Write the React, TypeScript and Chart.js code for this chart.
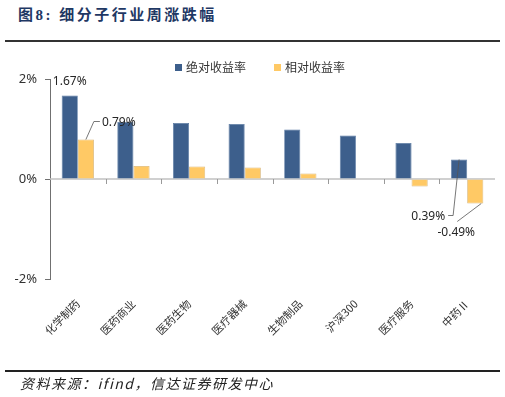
import React, { useEffect, useRef } from "react";
import { Chart, registerables } from "chart.js";

Chart.register(...registerables);

const categories = ["化学制药", "医药商业", "医药生物", "医疗器械", "生物制品", "沪深300", "医疗服务", "中药Ⅱ"];
const absReturn = [1.67, 1.14, 1.12, 1.10, 0.99, 0.87, 0.72, 0.39];
const relReturn = [0.79, 0.26, 0.25, 0.23, 0.11, 0, -0.15, -0.49];
const seriesNames = ["绝对收益率", "相对收益率"];
const yTicks = [-2, 0, 2];

const BLUE = "#3D5F8C";
const YELLOW = "#FFC965";
const NUM_FONT = '"Noto Sans", "Open Sans", sans-serif';
const CJK_FONT = '"Noto Sans CJK SC", "Noto Sans", sans-serif';

const fmt = (v: number) => v.toFixed(2) + "%";

const annotPlugin = {
  id: "annot",
  beforeDatasetsDraw(chart: any) {
    const { ctx, chartArea } = chart;
    const x = chart.scales.x;
    const y = chart.scales.y;
    const y0 = y.getPixelForValue(0);
    ctx.save();
    ctx.strokeStyle = "#c0c0c0";
    ctx.lineWidth = 1.5;
    ctx.beginPath();
    ctx.moveTo(chartArea.left, y0);
    ctx.lineTo(chartArea.right, y0);
    ctx.stroke();
    ctx.lineWidth = 1;
    ctx.strokeStyle = "#9a9a9a";
    const n = categories.length;
    for (let i = 1; i < n; i++) {
      const bx = Math.round((x.getPixelForValue(i - 1) + x.getPixelForValue(i)) / 2) + 0.5;
      ctx.beginPath();
      ctx.moveTo(bx, y0);
      ctx.lineTo(bx, y0 + 5);
      ctx.stroke();
    }
    ctx.restore();
  },
  afterDatasetsDraw(chart: any) {
    const { ctx } = chart;
    const m0 = chart.getDatasetMeta(0).data;
    const m1 = chart.getDatasetMeta(1).data;
    const last = categories.length - 1;
    ctx.save();
    ctx.font = "12px " + NUM_FONT;
    ctx.fillStyle = "#262626";
    ctx.strokeStyle = "#555";
    ctx.lineWidth = 0.8;
    ctx.textBaseline = "middle";

    // 1.67%
    const a0 = m0[0];
    ctx.textAlign = "center";
    ctx.fillText(fmt(absReturn[0]), a0.x, a0.y - 14);

    // 0.79%
    const r0 = m1[0];
    ctx.beginPath();
    ctx.moveTo(r0.x, r0.y);
    ctx.lineTo(r0.x + 8, r0.y - 18);
    ctx.lineTo(r0.x + 14, r0.y - 18);
    ctx.stroke();
    ctx.textAlign = "left";
    ctx.fillText(fmt(relReturn[0]), r0.x + 16, r0.y - 17);

    // 0.39%
    const aL = m0[last];
    ctx.beginPath();
    ctx.moveTo(aL.x, aL.y);
    ctx.lineTo(aL.x - 6, aL.y + 56);
    ctx.lineTo(aL.x - 11, aL.y + 56);
    ctx.stroke();
    ctx.textAlign = "right";
    ctx.fillText(fmt(absReturn[last]), aL.x - 14, aL.y + 57);

    // -0.49%
    const rL = m1[last];
    ctx.beginPath();
    ctx.moveTo(rL.x + 6, rL.y);
    ctx.lineTo(rL.x - 18, rL.y + 18);
    ctx.stroke();
    ctx.textAlign = "center";
    ctx.fillText(fmt(relReturn[last]), rL.x - 19, rL.y + 29);
    ctx.restore();
  },
};

export default function App() {
  const ref = useRef<HTMLCanvasElement | null>(null);
  useEffect(() => {
    if (!ref.current) return;
    const chart = new Chart(ref.current, {
      type: "bar",
      data: {
        labels: categories,
        datasets: [
          {
            label: seriesNames[0],
            data: absReturn,
            backgroundColor: BLUE,
            borderColor: "#5a7aa3",
            borderWidth: 0.8,
          },
          {
            label: seriesNames[1],
            data: relReturn,
            backgroundColor: YELLOW,
            borderColor: "#d8b373",
            borderWidth: 0.8,
          },
        ],
      },
      options: {
        responsive: false,
        animation: false,
        layout: { padding: { left: 0, right: 10, top: 79, bottom: 0 } },
        plugins: {
          legend: { display: false },
          tooltip: { enabled: false },
        },
        datasets: {
          bar: { barPercentage: 1, categoryPercentage: 0.58 },
        },
        scales: {
          x: {
            grid: { display: false },
            border: { display: false },
            ticks: {
              minRotation: 45,
              maxRotation: 45,
              padding: 10,
              color: "#333",
              font: { family: CJK_FONT, size: 11 },
            },
            afterFit: (s: any) => {
              s.height = 118;
            },
          },
          y: {
            min: -2,
            max: 2,
            afterBuildTicks: (s: any) => {
              s.ticks = yTicks.map((v) => ({ value: v }));
            },
            grid: {
              display: true,
              drawOnChartArea: false,
              drawTicks: true,
              tickLength: 5,
              color: "#707070",
            },
            border: { display: true, color: "#707070", width: 1 },
            ticks: {
              padding: 8,
              color: "#333",
              font: { family: NUM_FONT, size: 13 },
              callback: (v: any) => v + "%",
            },
            afterFit: (s: any) => {
              s.width = 50;
            },
          },
        },
      },
      plugins: [annotPlugin],
    });
    return () => chart.destroy();
  }, []);

  return (
    <div style={{ position: "fixed", left: 0, top: 0, width: 505, height: 397, background: "#fff", overflow: "hidden" }}>
      <div
        style={{
          position: "absolute",
          left: 18,
          top: 4,
          fontFamily: '"Liberation Serif", "Noto Sans CJK SC", serif',
          fontWeight: "bold",
          fontSize: 15,
          letterSpacing: 2.5,
          color: "#1F3864",
          whiteSpace: "nowrap",
          lineHeight: "22px",
        }}
      >
        图8: 细分子行业周涨跌幅
      </div>
      <div style={{ position: "absolute", left: 5, top: 40, width: 495, height: 1.5, background: "#333" }} />
      <canvas ref={ref} width={505} height={397} style={{ position: "absolute", left: 0, top: 0 }} />
      <div
        style={{
          position: "absolute",
          top: 58,
          left: 175,
          display: "flex",
          alignItems: "center",
          fontFamily: CJK_FONT,
          fontSize: 12,
          color: "#333",
          whiteSpace: "nowrap",
          lineHeight: "18px",
        }}
      >
        <span style={{ width: 7, height: 7, background: BLUE, display: "inline-block", marginRight: 4 }} />
        <span>{seriesNames[0]}</span>
        <span style={{ width: 7, height: 7, background: YELLOW, display: "inline-block", marginLeft: 28, marginRight: 4 }} />
        <span>{seriesNames[1]}</span>
      </div>
      <div style={{ position: "absolute", left: 5, top: 370, width: 495, height: 1.5, background: "#222" }} />
      <div
        style={{
          position: "absolute",
          left: 20,
          top: 373,
          fontFamily: '"Noto Sans CJK SC", "Liberation Serif", serif',
          fontStyle: "italic",
          fontSize: 14,
          letterSpacing: 1.5,
          color: "#222",
          whiteSpace: "nowrap",
          lineHeight: "20px",
        }}
      >
        资料来源：ifind，信达证券研发中心
      </div>
    </div>
  );
}
